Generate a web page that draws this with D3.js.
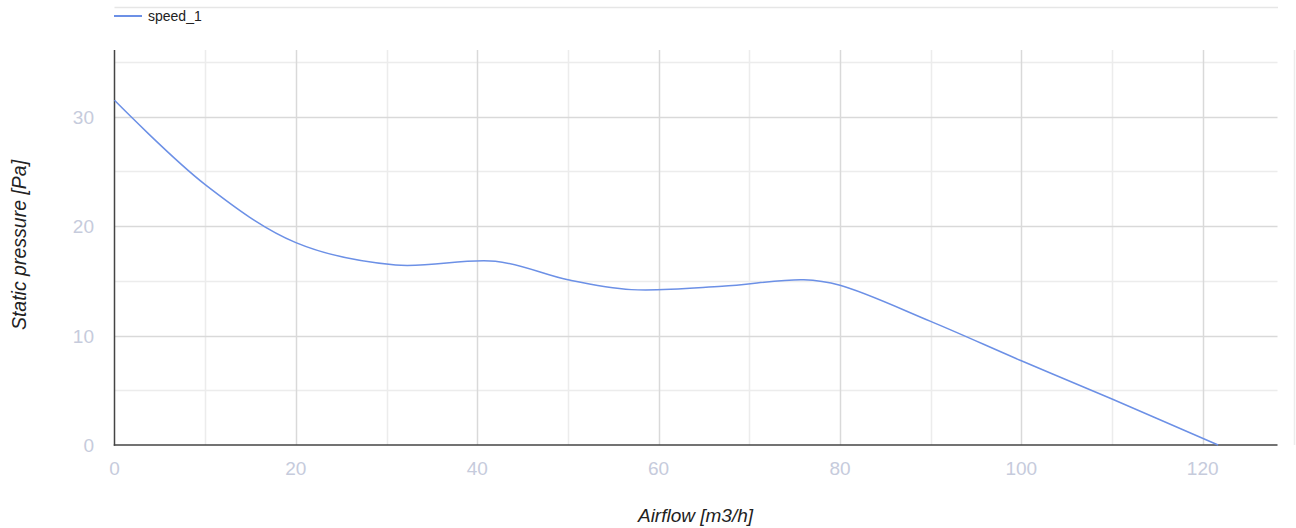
<!DOCTYPE html>
<html>
<head>
<meta charset="utf-8">
<script src="https://cdn.jsdelivr.net/npm/d3@7"></script>
<style>
  html, body { margin: 0; padding: 0; background: #ffffff; }
  svg { display: block; font-family: "Liberation Sans", Arial, sans-serif; }
</style>
</head>
<body>
<svg id="chart" width="1296" height="528"></svg>
<script>
// ---- data ----
const seriesName = "speed_1";
const airflow = [0, 10, 20, 31, 42, 50, 57, 67, 76, 80, 90, 100, 110, 121.7];
const pressure = [31.5, 23.8, 18.5, 16.45, 16.8, 15.1, 14.2, 14.5, 15.1, 14.6, 11.3, 7.7, 4.2, 0];
const xTicks = [0, 20, 40, 60, 80, 100, 120];
const xMinorTicks = [10, 30, 50, 70, 90, 110];
const yTicks = [0, 10, 20, 30];
const yMinorTicks = [5, 15, 25, 35];
const xTitle = "Airflow [m3/h]";
const yTitle = "Static pressure [Pa]";

const svg = d3.select("#chart");
const x = d3.scaleLinear().domain([0, 128.25]).range([114.5, 1277.5]);
const y = d3.scaleLinear().domain([0, 36.1]).range([445, 50]);
const [x0, x1] = x.range();
const [yb, yt] = y.range();

// top separator line and right faint line
svg.append("line").attr("x1", x0).attr("x2", x1 + 0.5).attr("y1", 7.5).attr("y2", 7.5)
  .attr("stroke", "#e6e6e6").attr("stroke-width", 1.5);
svg.append("line").attr("x1", 1294.5).attr("x2", 1294.5).attr("y1", yt).attr("y2", yb)
  .attr("stroke", "#ececec").attr("stroke-width", 1.5);

// grid
const g = svg.append("g");
g.selectAll(".xminor").data(xMinorTicks).join("line")
  .attr("x1", d => Math.round(x(d)) + 0.5).attr("x2", d => Math.round(x(d)) + 0.5)
  .attr("y1", yt).attr("y2", yb).attr("stroke", "#ececec").attr("stroke-width", 1.5);
g.selectAll(".yminor").data(yMinorTicks).join("line")
  .attr("y1", d => Math.round(y(d)) + 0.5).attr("y2", d => Math.round(y(d)) + 0.5)
  .attr("x1", x0).attr("x2", x1).attr("stroke", "#ececec").attr("stroke-width", 1.5);
g.selectAll(".xmajor").data(xTicks.filter(d => d > 0)).join("line")
  .attr("x1", d => Math.round(x(d)) + 0.5).attr("x2", d => Math.round(x(d)) + 0.5)
  .attr("y1", yt).attr("y2", yb).attr("stroke", "#d9d9d9").attr("stroke-width", 1.5);
g.selectAll(".ymajor").data(yTicks.filter(d => d > 0)).join("line")
  .attr("y1", d => Math.round(y(d)) + 0.5).attr("y2", d => Math.round(y(d)) + 0.5)
  .attr("x1", x0).attr("x2", x1).attr("stroke", "#d9d9d9").attr("stroke-width", 1.5);

// axis lines
svg.append("line").attr("x1", x0).attr("x2", x0).attr("y1", yt).attr("y2", yb + 0.75)
  .attr("stroke", "#444").attr("stroke-width", 1.5);
svg.append("line").attr("x1", x0 - 0.75).attr("x2", x1).attr("y1", yb).attr("y2", yb)
  .attr("stroke", "#444").attr("stroke-width", 1.5);

// tick labels
const tickColor = "#c6cbdc";
svg.append("g").selectAll("text").data(yTicks).join("text")
  .attr("x", 94).attr("y", d => y(d) + 7)
  .attr("text-anchor", "end").attr("font-size", 19).attr("fill", tickColor)
  .text(d => d);
svg.append("g").selectAll("text").data(xTicks).join("text")
  .attr("x", d => x(d)).attr("y", 475)
  .attr("text-anchor", "middle").attr("font-size", 19).attr("fill", tickColor)
  .text(d => d);

// axis titles
svg.append("text").attr("x", 695.5).attr("y", 522)
  .attr("text-anchor", "middle").attr("font-size", 19).attr("font-style", "italic")
  .attr("fill", "#222").text(xTitle);
svg.append("text").attr("transform", "translate(26,245) rotate(-90)")
  .attr("text-anchor", "middle").attr("font-size", 19.5).attr("font-style", "italic")
  .attr("fill", "#222").text(yTitle);

// series
const color = "#6c90e6";
const pts = airflow.map((a, i) => [a, pressure[i]]);
const line = d3.line().x(d => x(d[0])).y(d => y(d[1])).curve(d3.curveCatmullRom.alpha(0.5));
svg.append("path").datum(pts).attr("d", line)
  .attr("fill", "none").attr("stroke", color).attr("stroke-width", 1.5);

// legend
svg.append("line").attr("x1", 114).attr("x2", 142).attr("y1", 16).attr("y2", 16)
  .attr("stroke", color).attr("stroke-width", 2);
svg.append("text").attr("x", 148).attr("y", 21).attr("font-size", 14)
  .attr("fill", "#222").text(seriesName);
</script>
</body>
</html>
